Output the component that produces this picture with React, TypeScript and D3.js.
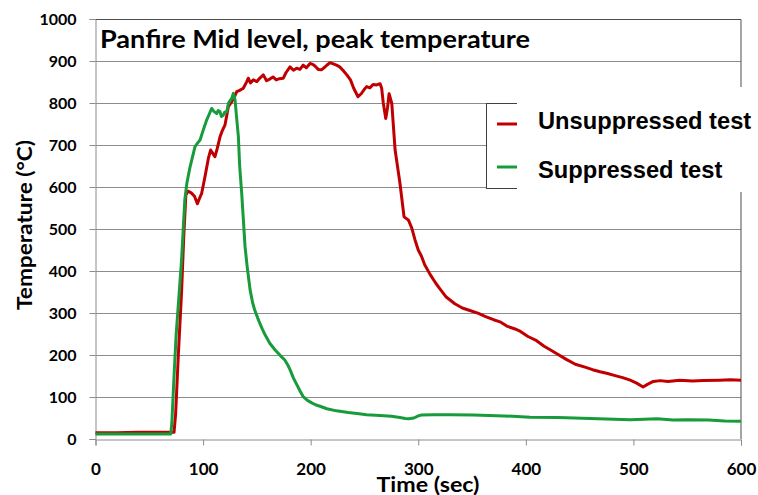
import { useEffect, useRef } from "react";
import * as d3 from "d3";

const chartTitle = "Panfire Mid level, peak temperature";
const seriesNames = ["Unsuppressed test", "Suppressed test"];
const seriesColors = ["#C00000", "#179B3B"];
const xTicks = [0, 100, 200, 300, 400, 500, 600];
const yTicks = [0, 100, 200, 300, 400, 500, 600, 700, 800, 900, 1000];

const unsuppressedTime = [
  0, 20, 40, 60, 73, 74.5, 77, 80, 82, 84, 86, 89, 92, 94.7, 97, 98.7, 101.8, 104.9, 107, 109,
  111, 113, 115.8, 118, 120.4, 122, 123.5, 126.6, 129.7, 131.3, 134, 137.4, 140.6, 142, 144,
  146.7, 150, 153, 156, 159, 162, 165, 168, 171, 174.6, 177, 180.8, 184, 187, 190, 193, 196,
  199.4, 202, 204, 207, 210, 213, 215, 218, 221, 224, 227, 230, 233.6, 237, 240, 244, 247, 250,
  252, 255, 258, 261.4, 264.5, 266, 267.5, 269.8, 271.5, 272.9, 275.4, 278.5, 283, 286.8, 290.9,
  294, 297, 300, 303, 306, 311, 316, 320, 326, 334, 341, 348, 356, 362, 370, 376, 383, 390, 395,
  402, 410, 417, 423, 430, 438, 446, 455, 462, 469, 476, 483, 490, 497, 503, 509, 513, 518.5,
  525, 532, 543, 555, 565, 580, 590, 600,
];
const unsuppressedTemp = [
  15, 15, 16, 16, 16, 60, 200, 350, 480, 581, 590, 586, 578, 560, 575, 585, 625, 668, 688, 680,
  672, 690, 720, 735, 748, 770, 791, 803, 818, 827, 830, 835, 851, 859, 848,
  855, 851, 860, 867, 853, 857, 862, 855, 858, 859, 872, 886, 878, 883, 880, 890, 884,
  894, 892, 888, 880, 879, 885, 890, 896, 893, 890, 886, 878, 867, 855, 835, 815, 822, 833,
  839, 836, 844, 843, 846, 835, 800, 763, 790, 822, 799, 688, 609, 529, 521,
  502, 474, 450, 435, 415, 392, 372, 358, 338, 322, 312, 306, 299, 292, 284, 279, 268, 262, 256,
  244, 234, 221, 212, 201, 189, 178, 171, 165, 160, 156, 151, 146, 140, 133, 124, 130, 137,
  139, 137, 140, 138, 139, 140, 141, 140,
];

const suppressedTime = [
  0, 20, 40, 60, 70, 71, 73, 75, 77, 80, 83, 85, 87.9, 90, 92.5, 95, 97.2, 100.2, 103.4, 106,
  108, 110, 112.7, 114, 115.8, 117, 118.8, 120, 122, 123.5, 125, 126.6, 128.2, 129.7, 131, 132.8,
  134, 135.9, 137.5, 139, 141, 143.7, 146, 148, 152, 155, 157.6, 162, 167, 172, 176, 179, 181,
  184, 187, 190, 193, 197, 201, 205, 208.7, 215, 224, 235, 245, 252, 264.5, 275, 283, 288, 291,
  296, 300, 303, 314, 330, 351, 380, 404, 430, 460, 497, 510, 522, 537, 550, 570, 585, 600,
];
const suppressedTemp = [
  12, 12, 12, 12, 12, 40, 150, 250, 320, 426, 569, 610, 648, 670, 696, 705, 712, 736, 760, 775,
  787, 780, 775, 782, 779, 768, 771, 778, 779, 799, 805, 811, 823, 807, 770, 720,
  650, 585, 520, 458, 410, 355, 325, 307, 280, 262, 248, 228, 212, 198, 188, 175, 164,
  145, 130, 115, 101, 92, 86, 81, 78, 72, 67, 63, 60, 58, 56, 54, 51, 49, 48,
  50, 55, 57, 58, 58, 57, 55, 52, 51, 49, 46, 47, 48, 45, 46, 45, 43, 42,
];

export default function App() {
  const ref = useRef<SVGSVGElement>(null);

  useEffect(() => {
    const svg = d3.select(ref.current);
    svg.selectAll("*").remove();

    const width = 758;
    const height = 495;
    const margin = { top: 19, right: 17, bottom: 56, left: 95.5 };
    const font = "Lato, 'Open Sans', sans-serif";

    const x = d3.scaleLinear().domain([0, 600]).range([margin.left, width - margin.right]);
    const y = d3.scaleLinear().domain([0, 1000]).range([height - margin.bottom, margin.top]);

    svg.append("rect").attr("width", width).attr("height", height).attr("fill", "#fff");

    // gridlines
    svg
      .append("g")
      .selectAll("line")
      .data(yTicks.slice(1, -1))
      .enter()
      .append("line")
      .attr("x1", x(0))
      .attr("x2", x(600))
      .attr("y1", (d) => Math.round(y(d)) + 0.5)
      .attr("y2", (d) => Math.round(y(d)) + 0.5)
      .attr("stroke", "#8c8c8c")
      .attr("stroke-width", 1);

    // frame top / right
    svg
      .append("path")
      .attr("d", `M${x(0)},${y(1000) + 0.5}H${x(600)}V${y(0)}`)
      .attr("fill", "none")
      .attr("stroke", "#4d4d4d")
      .attr("stroke-width", 1);

    const yAxis = svg
      .append("g")
      .attr("transform", `translate(${x(0)},0)`)
      .call(d3.axisLeft(y).tickValues(yTicks).tickSize(6).tickPadding(13).tickFormat(d3.format("d")));
    yAxis.select(".domain").attr("stroke", "#8c8c8c");
    yAxis.selectAll(".tick line").attr("stroke", "#8c8c8c");
    yAxis
      .selectAll("text")
      .attr("fill", "#000")
      .style("font-family", font)
      .style("font-weight", "bold")
      .style("font-size", "16px");

    const xAxis = svg
      .append("g")
      .attr("transform", `translate(0,${y(0) + 0.5})`)
      .call(d3.axisBottom(x).tickValues(xTicks).tickSize(6).tickPadding(17).tickFormat(d3.format("d")));
    xAxis.select(".domain").attr("stroke", "#8c8c8c");
    xAxis.selectAll(".tick line").attr("stroke", "#8c8c8c");
    xAxis
      .selectAll("text")
      .attr("fill", "#000")
      .style("font-family", font)
      .style("font-weight", "bold")
      .style("font-size", "17px");

    const series = [
      { t: unsuppressedTime, v: unsuppressedTemp },
      { t: suppressedTime, v: suppressedTemp },
    ];
    const line = d3
      .line<[number, number]>()
      .x((d) => x(d[0]))
      .y((d) => y(d[1]));

    series.forEach((s, k) => {
      const pts = s.t.map((t, i) => [t, s.v[i]] as [number, number]);
      svg
        .append("path")
        .datum(pts)
        .attr("d", line)
        .attr("fill", "none")
        .attr("stroke", seriesColors[k])
        .attr("stroke-width", 3)
        .attr("stroke-linejoin", "round");
    });

    // title
    svg
      .append("text")
      .attr("x", 100)
      .attr("y", 48)
      .attr("textLength", 430)
      .attr("lengthAdjust", "spacingAndGlyphs")
      .style("font-family", font)
      .style("font-weight", "bold")
      .style("font-size", "25px")
      .text(chartTitle);

    // legend
    svg
      .append("rect")
      .attr("x", 486.5)
      .attr("y", 103.5)
      .attr("width", 300)
      .attr("height", 85)
      .attr("fill", "#fff")
      .attr("stroke", "#404040");
    svg
      .append("rect")
      .attr("x", 517)
      .attr("y", 87)
      .attr("width", 241)
      .attr("height", 105)
      .attr("fill", "#fff");
    const legendY = [124, 167];
    const legendBase = [129, 178];
    seriesNames.forEach((name, k) => {
      svg
        .append("line")
        .attr("x1", 497)
        .attr("x2", 517)
        .attr("y1", legendY[k])
        .attr("y2", legendY[k])
        .attr("stroke", seriesColors[k])
        .attr("stroke-width", 3);
      svg
        .append("text")
        .attr("x", 538)
        .attr("y", legendBase[k])
        .style("font-family", "'Liberation Sans', Arial, sans-serif")
        .style("font-weight", "bold")
        .style("font-size", "23.7px")
        .text(name);
    });

    // axis titles
    svg
      .append("text")
      .attr("transform", "translate(32,225) rotate(-90)")
      .attr("text-anchor", "middle")
      .attr("textLength", 170)
      .attr("lengthAdjust", "spacingAndGlyphs")
      .style("font-family", font)
      .style("font-weight", "bold")
      .style("font-size", "20px")
      .text("Temperature (°C)");
    svg
      .append("text")
      .attr("x", 428)
      .attr("y", 492)
      .attr("text-anchor", "middle")
      .attr("textLength", 103)
      .attr("lengthAdjust", "spacingAndGlyphs")
      .style("font-family", font)
      .style("font-weight", "bold")
      .style("font-size", "20px")
      .text("Time (sec)");
  }, []);

  return (
    <svg
      ref={ref}
      width={758}
      height={495}
      style={{ position: "absolute", left: 0, top: 0, display: "block" }}
    />
  );
}
